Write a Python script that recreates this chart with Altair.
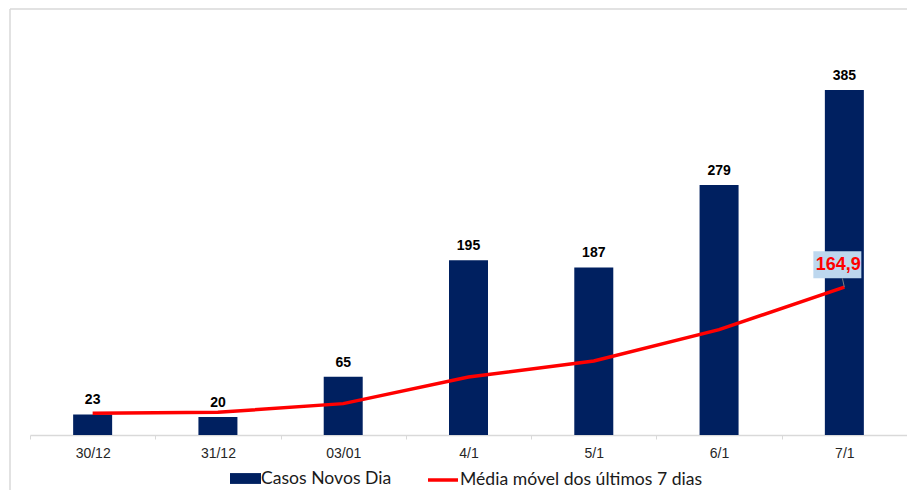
import altair as alt
import pandas as pd

dias = ["30/12", "31/12", "03/01", "4/1", "5/1", "6/1", "7/1"]
casos = [23, 20, 65, 195, 187, 279, 385]
media = [24.2, 25.3, 35.0, 64.7, 82.5, 117.5, 164.9]

SERIE_BAR = "Casos Novos Dia"
SERIE_LINE = "Média móvel dos últimos 7 dias"

df = pd.DataFrame({"dia": dias, "casos": casos, "media": media})
df["media_lbl"] = [f"{v:.1f}".replace(".", ",") for v in media]
df["s_bar"] = SERIE_BAR
df["s_line"] = SERIE_LINE
last = df.tail(1)

NAVY = "#002060"
RED = "#ff0000"
LEG_FONT = "Lato"
LEG_SIZE = 17.6

xenc = alt.X("dia:N", sort=dias, bandPosition=0.5,
             scale=alt.Scale(paddingInner=0, paddingOuter=0),
             axis=alt.Axis(title=None, labelAngle=0, tickBand="extent",
                           domainColor="#d9d9d9", domainWidth=1.5,
                           tickColor="#d9d9d9", tickWidth=1, tickSize=4,
                           labelFont="Liberation Sans", labelFontSize=14,
                           labelColor="#262626", labelPadding=7))
yscale = alt.Scale(domain=[0, 463], nice=False, zero=True)

base = alt.Chart(df)

bars = base.mark_bar(width=39).encode(
    x=xenc,
    y=alt.Y("casos:Q", scale=yscale, axis=None),
    fill=alt.Fill("s_bar:N",
        scale=alt.Scale(domain=[SERIE_BAR], range=[NAVY]),
        legend=alt.Legend(title=None, orient="none", legendX=200, legendY=443,
                          symbolType="M-1,-0.35L1,-0.35L1,0.35L-1,0.35Z",
                          symbolSize=961, symbolStrokeWidth=0, symbolOpacity=1,
                          labelFont=LEG_FONT, labelFontSize=LEG_SIZE, labelLimit=0,
                          labelColor="#1a1a1a", labelOffset=0)),
)

bar_labels = base.mark_text(font="Liberation Sans", fontSize=14, fontWeight="bold",
                            color="black", baseline="alphabetic", dy=-10).encode(
    x=alt.X("dia:N", sort=dias, bandPosition=0.5),
    y=alt.Y("casos:Q", scale=yscale),
    text="casos:Q",
)

line = base.mark_line(strokeWidth=3.5).encode(
    x=alt.X("dia:N", sort=dias, bandPosition=0.5),
    y=alt.Y("media:Q", scale=yscale),
    stroke=alt.Stroke("s_line:N",
        scale=alt.Scale(domain=[SERIE_LINE], range=[RED]),
        legend=alt.Legend(title=None, orient="none", legendX=396, legendY=443,
                          symbolType="stroke", symbolSize=900,
                          symbolStrokeWidth=3.5,
                          labelFont=LEG_FONT, labelFontSize=LEG_SIZE, labelLimit=0,
                          labelColor="#1a1a1a", labelOffset=0)),
)

box = alt.Chart(last).mark_point(
    shape="M-1.292,-1.5L0.708,-1.5L0.708,-0.375L-1.292,-0.375Z",
    size=2304, filled=True, fill="#bdd7ee", opacity=1, strokeWidth=0).encode(
    x=alt.X("dia:N", sort=dias, bandPosition=0.5),
    y=alt.Y("media:Q", scale=yscale),
)

leader = alt.Chart(last).mark_point(
    shape="M-0.083,-0.375L0,0", size=2304, filled=False,
    stroke="#7f7f7f", strokeWidth=1, opacity=1).encode(
    x=alt.X("dia:N", sort=dias, bandPosition=0.5),
    y=alt.Y("media:Q", scale=yscale),
)

last_label = alt.Chart(last).mark_text(font="Liberation Sans", fontSize=18,
                                       fontWeight="bold", color=RED,
                                       align="center", baseline="middle",
                                       dx=-6, dy=-22).encode(
    x=alt.X("dia:N", sort=dias, bandPosition=0.5),
    y=alt.Y("media:Q", scale=yscale),
    text="media_lbl:N",
)

frame_df = pd.DataFrame({"k": [0]})
frame_top = alt.Chart(frame_df).mark_rule(color="#d9d9d9", strokeWidth=1.5).encode(
    x=alt.value(-20), x2=alt.value(890), y=alt.value(-11))
frame_left = alt.Chart(frame_df).mark_rule(color="#d9d9d9", strokeWidth=1.5).encode(
    x=alt.value(-20), y=alt.value(-11), y2=alt.value(480))

chart = alt.layer(frame_top, frame_left, bars, bar_labels, line, box, leader, last_label).properties(
    width=877, height=415,
    autosize=alt.AutoSizeParams(type="none"),
    padding={"left": 22, "top": 12, "right": 0, "bottom": 55},
).configure_view(stroke=None)

chart.save("out.html", embed_options={"renderer": "svg", "actions": False})
